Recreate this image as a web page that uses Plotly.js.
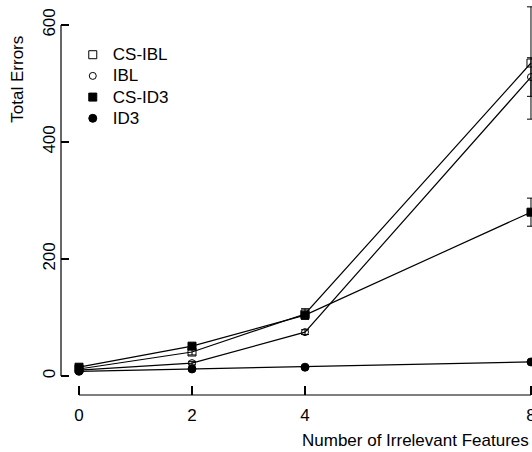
<!DOCTYPE html>
<html><head><meta charset="utf-8">
<script src="https://cdn.plot.ly/plotly-3.0.1.min.js"></script>
<style>html,body{margin:0;padding:0;background:#fff}#c{width:532px;height:452px}</style>
</head><body><div id="c"></div>
<script>
const xVals = [0, 2, 4, 8];
const xTicks = [0, 2, 4, 8];
const yTicks = [0, 200, 400, 600];
const csIbl = [12, 41, 106, 535];
const csIblErr = [3, 5, 9, 96];
const ibl = [10, 22, 75, 511];
const iblErr = [2, 3, 4, 33];
const csId3 = [15, 51, 104, 280];
const csId3Err = [2, 3, 4, 24];
const id3 = [8, 12, 15, 24];
const names = ['CS-IBL', 'IBL', 'CS-ID3', 'ID3'];
const symbols = ['square-open', 'circle-open', 'square', 'circle'];
const sizes = [8, 7, 8, 8];
const series = [csIbl, ibl, csId3, id3];
const errs = [csIblErr, iblErr, csId3Err, null];

const FONT = 'Liberation Sans, Arial, sans-serif';
const FS = 17;
const traces = [];
series.forEach((ys, i) => {
  const t = {
    x: xVals, y: ys, type: 'scatter', mode: 'lines+markers', showlegend: false,
    line: {color: '#000', width: 1.2},
    marker: {symbol: symbols[i], size: sizes[i], color: '#000', line: {color: '#000', width: 1}},
    cliponaxis: false
  };
  if (errs[i]) t.error_y = {type: 'data', array: errs[i], visible: true, color: '#000', thickness: 1, width: 4};
  traces.push(t);
});
// legend-only entries (marker without line), text enlarged while keeping tight row spacing
names.forEach((n, i) => {
  traces.push({x: [null], y: [null], type: 'scatter', mode: 'markers',
    name: '<span style="font-size:' + FS + 'px">' + n + '</span>',
    marker: {symbol: symbols[i], size: sizes[i], color: '#000', line: {color: '#000', width: 1}}});
});

const layout = {
  width: 532, height: 452,
  margin: {l: 61, r: 0, t: 0, b: 57},
  paper_bgcolor: '#fff', plot_bgcolor: '#fff',
  font: {family: FONT, size: FS, color: '#000'},
  showlegend: true,
  legend: {x: 0.025, y: 0.901, xanchor: 'left', yanchor: 'top', bgcolor: 'rgba(0,0,0,0)',
           font: {family: FONT, size: 14, color: '#000'}, itemwidth: 30, tracegroupgap: 0},
  xaxis: {range: [-0.319, 8.018], tickvals: xTicks, ticktext: xTicks.map(String),
          ticks: 'inside', ticklen: 9, tickwidth: 1.2, tickcolor: '#000',
          showgrid: false, zeroline: false, showline: false, fixedrange: true, ticklabeloverflow: 'allow',
          tickfont: {family: FONT, size: FS, color: '#000'}, ticklabelstandoff: 8},
  yaxis: {range: [-32.5, 642.7], tickvals: yTicks, ticktext: yTicks.map(String),
          ticks: 'inside', ticklen: 8, tickwidth: 1.2, tickcolor: '#000', tickangle: -90,
          showgrid: false, zeroline: false, showline: false, fixedrange: true,
          tickfont: {family: FONT, size: FS, color: '#000'}, ticklabelstandoff: 2},
  shapes: [
    {type: 'line', xref: 'paper', yref: 'y', x0: 0, x1: 0, y0: yTicks[0], y1: yTicks[yTicks.length-1], line: {color: '#000', width: 1.2}},
    {type: 'line', xref: 'x', yref: 'paper', x0: xTicks[0], x1: xTicks[xTicks.length-1], y0: 0, y1: 0, line: {color: '#000', width: 1.2}}
  ],
  annotations: [
    {text: 'Total Errors', xref: 'paper', yref: 'paper', x: -0.092, y: 0.80, textangle: -90,
     showarrow: false, xanchor: 'center', yanchor: 'middle', font: {family: FONT, size: FS, color: '#000'}},
    {text: 'Number of Irrelevant Features', xref: 'paper', yref: 'paper', x: 0.752, y: -0.115,
     showarrow: false, xanchor: 'center', yanchor: 'middle', font: {family: FONT, size: FS, color: '#000'}}
  ]
};
Plotly.newPlot('c', traces, layout, {displayModeBar: false, staticPlot: true});
</script></body></html>
